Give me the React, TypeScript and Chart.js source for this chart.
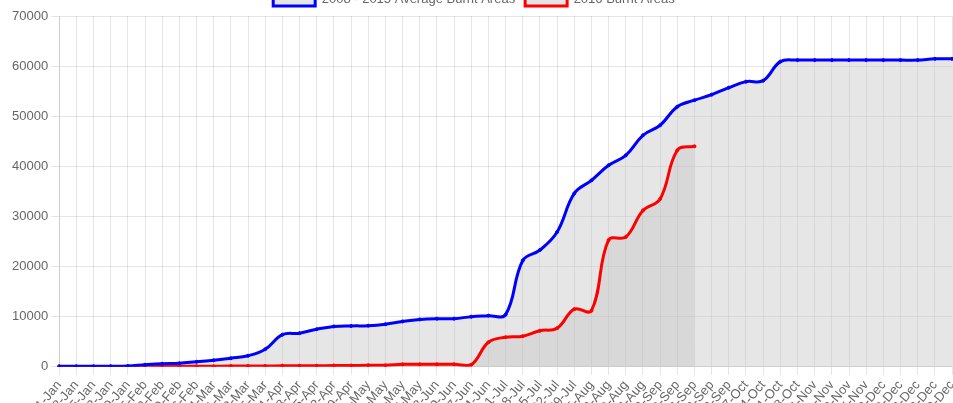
import React, { useEffect, useRef } from "react";
import { Chart, registerables } from "chart.js";

Chart.register(...registerables);

const weekLabels: string[] = [
  "1-Jan", "8-Jan", "15-Jan", "22-Jan", "29-Jan",
  "5-Feb", "12-Feb", "19-Feb", "26-Feb",
  "4-Mar", "11-Mar", "18-Mar", "25-Mar",
  "1-Apr", "8-Apr", "15-Apr", "22-Apr", "29-Apr",
  "6-May", "13-May", "20-May", "27-May",
  "3-Jun", "10-Jun", "17-Jun", "24-Jun",
  "1-Jul", "8-Jul", "15-Jul", "22-Jul", "29-Jul",
  "5-Aug", "12-Aug", "19-Aug", "26-Aug",
  "2-Sep", "9-Sep", "16-Sep", "23-Sep", "30-Sep",
  "7-Oct", "14-Oct", "21-Oct", "28-Oct",
  "4-Nov", "11-Nov", "18-Nov", "25-Nov",
  "2-Dec", "9-Dec", "16-Dec", "23-Dec", "30-Dec",
];

const averageBurnt2008to2015: number[] = [
  100, 100, 100, 100, 150,
  400, 600, 700, 1000,
  1300, 1700, 2200, 3500,
  6400, 6700, 7500, 8050, 8150,
  8200, 8500, 9050, 9450,
  9600, 9600, 10000, 10200,
  10400, 21200, 23300, 26900, 34600,
  37200, 40200, 42200, 46200,
  48200, 51900, 53200, 54300, 55700,
  56900, 57100, 60900, 61200,
  61200, 61200, 61200, 61200,
  61200, 61200, 61200, 61450, 61450,
];

const burnt2016: (number | null)[] = [
  0, 0, 0, 50, 50,
  50, 100, 100, 100,
  100, 150, 150, 150,
  200, 200, 200, 250, 250,
  300, 300, 500, 500,
  500, 500, 400, 4900,
  5900, 6100, 7200, 7700, 11500,
  11200, 25300, 25900, 31200,
  33500, 43200, 44000,
  null, null, null, null, null, null, null, null, null, null, null, null, null, null, null,
];

const yMin = 0;
const yMax = 70000;
const yStep = 10000;

const seriesNames = ["2008 - 2015 Average Burnt Areas", "2016 Burnt Areas"];

export default function App() {
  const canvasRef = useRef<HTMLCanvasElement>(null);

  useEffect(() => {
    if (!canvasRef.current) return;
    Chart.defaults.font.family = "Arial, 'Liberation Sans', Helvetica, sans-serif";
    Chart.defaults.font.size = 13;
    Chart.defaults.color = "#666";

    const legendShift = {
      id: "legendShift",
      afterLayout(chart: any) {
        const lg = chart.legend;
        if (lg) {
          lg.left -= 14;
          lg.right -= 14;
        }
      },
    };

    const chart = new Chart(canvasRef.current, {
      type: "line",
      data: {
        labels: weekLabels,
        datasets: [
          {
            label: seriesNames[0],
            data: averageBurnt2008to2015,
            borderColor: "#0000ff",
            backgroundColor: "rgba(200,200,200,0.45)",
            pointBackgroundColor: "#0000ff",
            pointBorderColor: "#0000ff",
            borderWidth: 3,
            pointRadius: 1.5,
            pointBorderWidth: 1,
            tension: 0.4,
            fill: "origin",
          },
          {
            label: seriesNames[1],
            data: burnt2016,
            borderColor: "#ff0000",
            backgroundColor: "rgba(170,170,170,0.3)",
            pointBackgroundColor: "#ff0000",
            pointBorderColor: "#ff0000",
            borderWidth: 3,
            pointRadius: 1.5,
            pointBorderWidth: 1,
            tension: 0.4,
            fill: "origin",
            spanGaps: false,
          },
        ],
      },
      options: {
        responsive: false,
        animation: false,
        plugins: {
          filler: { drawTime: "beforeDatasetsDraw" },
          legend: {
            display: true,
            position: "top",
            labels: {
              boxWidth: 42,
              boxHeight: 13,
              padding: 10,
              color: "#666",
            },
          },
          tooltip: { enabled: false },
        },
        scales: {
          x: {
            grid: { color: "rgba(0,0,0,0.1)" },
            ticks: { autoSkip: false, maxRotation: 50, color: "#666" },
          },
          y: {
            min: yMin,
            max: yMax,
            grid: { color: "rgba(0,0,0,0.1)" },
            ticks: {
              stepSize: yStep,
              color: "#666",
              callback: (v: any) => String(v),
            },
          },
        },
      },
      plugins: [legendShift],
    });
    return () => chart.destroy();
  }, []);

  return (
    <div
      style={{
        position: "fixed",
        left: 0,
        top: 0,
        width: 953,
        height: 403,
        overflow: "hidden",
        background: "#fff",
      }}
    >
      <div style={{ position: "absolute", left: 9, top: -17, width: 958, height: 441 }}>
        <canvas ref={canvasRef} width={958} height={441} style={{ display: "block" }} />
      </div>
    </div>
  );
}
